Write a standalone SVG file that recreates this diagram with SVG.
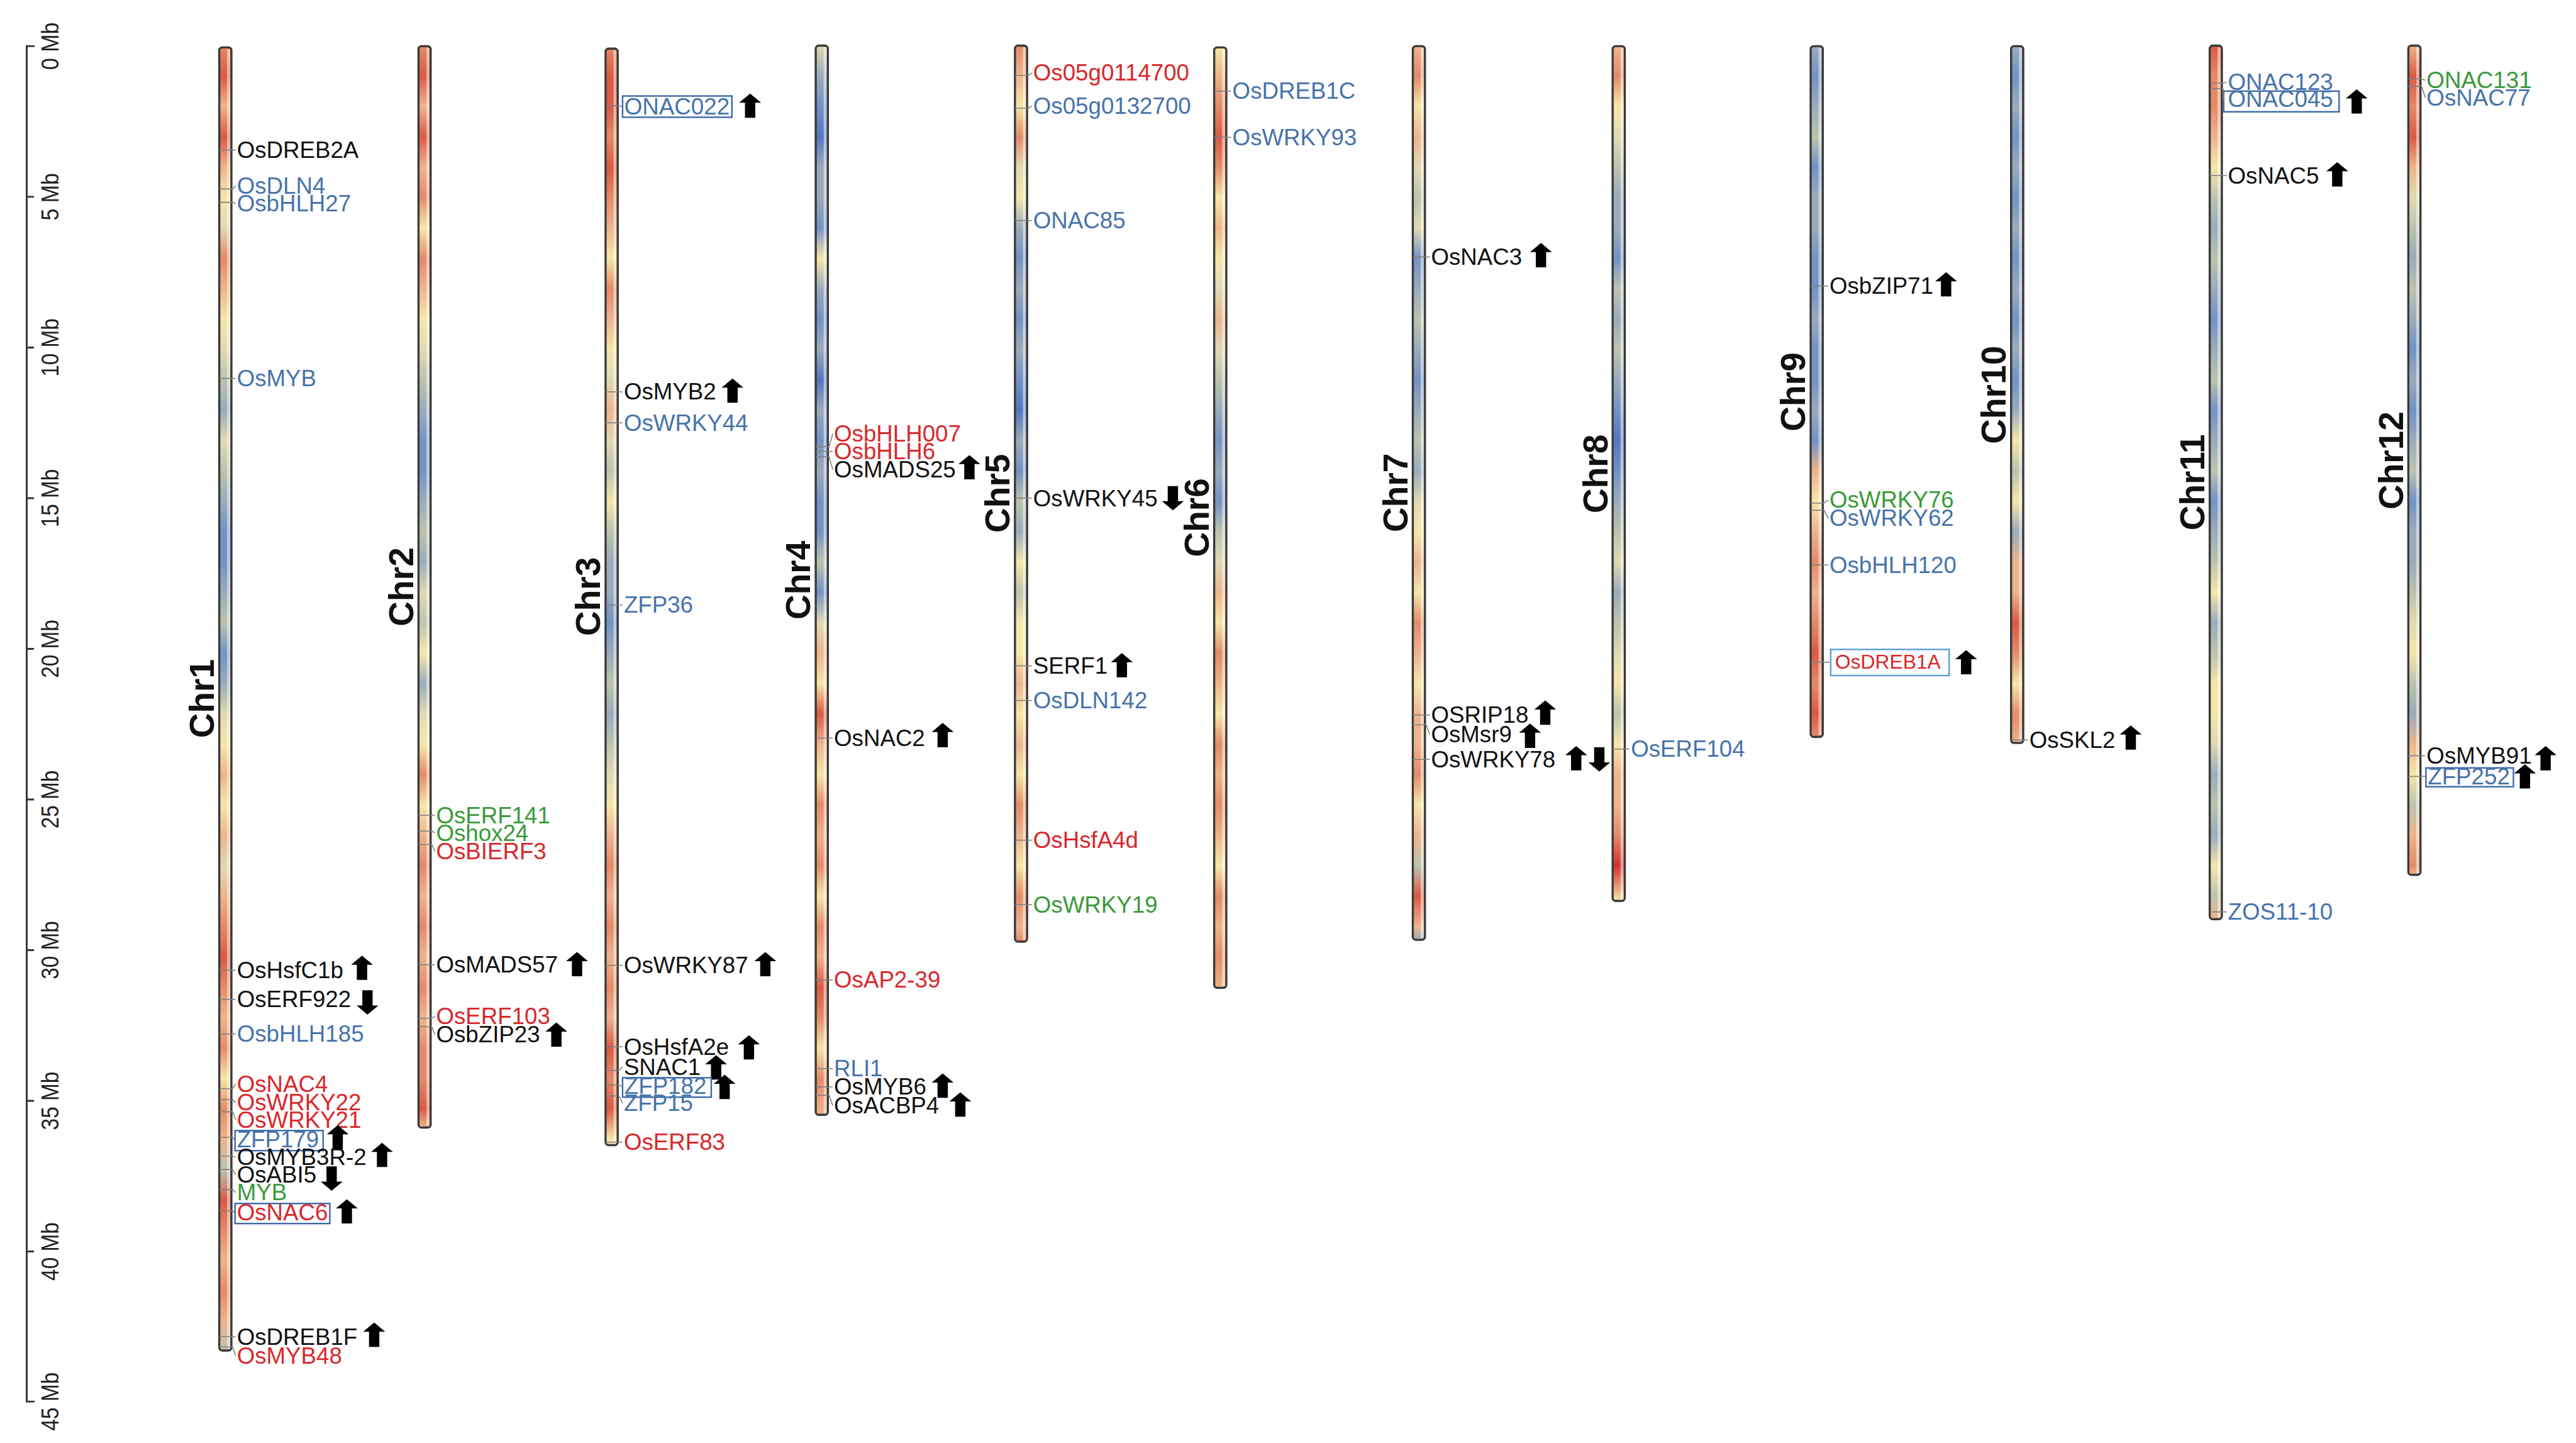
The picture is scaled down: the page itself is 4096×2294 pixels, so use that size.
<svg xmlns="http://www.w3.org/2000/svg" width="4096" height="2294" viewBox="0 0 4096 2294">
<style>
.t{font-family:"Liberation Sans",Arial,sans-serif;font-size:38px}
.k{fill:#111}.bl{fill:#4773ab}.rd{fill:#d8282c}.gr{fill:#3a9a3a}
.chr{font-family:"Liberation Sans",Arial,sans-serif;font-size:57px;font-weight:bold;fill:#111;text-anchor:middle}
.axt{font-family:"Liberation Sans",Arial,sans-serif;font-size:40px;fill:#222;text-anchor:middle}
.ax{fill:none;stroke:#333;stroke-width:3}
.cn{fill:none;stroke:#808080;stroke-width:1.6}
.bx{fill:none;stroke:#3e6aa8;stroke-width:2.5}
.bx2{fill:none;stroke:#5aa0d8;stroke-width:2.5}
.bar{fill:none;stroke:#3a3a3a;stroke-width:3.5}
.hl{fill:#fff;opacity:.5}
.cR{stop-color:#da5a44}.cr{stop-color:#e48a68}.co{stop-color:#eeb48b}.cy{stop-color:#f6e6a9}.cb{stop-color:#e0d9b2}.cg{stop-color:#bcc3ae}.cs{stop-color:#9aabbb}.cB{stop-color:#7392c6}.cD{stop-color:#5476bf}
</style>
<defs>
<path id="up" d="M0,-20L18,-5H8.5V20H-8.5V-5H-18Z" fill="#000"/>
<path id="dn" d="M0,20L18,5H8.5V-20H-8.5V5H-18Z" fill="#000"/>
<linearGradient id="g1" gradientUnits="userSpaceOnUse" x1="0" y1="0" x2="0" y2="2500">
<stop offset=".03" class="cr"/><stop offset=".05" class="cR"/><stop offset=".07" class="co"/><stop offset=".09" class="cR"/><stop offset=".11" class="co"/><stop offset=".13" class="cy"/><stop offset=".15" class="cb"/><stop offset=".17" class="cr"/><stop offset=".19" class="co"/><stop offset=".21" class="cy"/><stop offset=".23" class="cb"/><stop offset=".25" class="cg"/><stop offset=".27" class="cs"/><stop offset=".29" class="cb"/><stop offset=".31" class="cg"/><stop offset=".33" class="cs"/><stop offset=".35" class="cB"/><stop offset=".37" class="cB"/><stop offset=".39" class="cs"/><stop offset=".41" class="cg"/><stop offset=".43" class="cB"/><stop offset=".45" class="cs"/><stop offset=".47" class="cb"/><stop offset=".49" class="cy"/><stop offset=".51" class="co"/><stop offset=".53" class="cy"/><stop offset=".55" class="co"/><stop offset=".57" class="cb"/><stop offset=".59" class="co"/><stop offset=".61" class="cr"/><stop offset=".63" class="cR"/><stop offset=".65" class="cr"/><stop offset=".67" class="co"/><stop offset=".69" class="cr"/><stop offset=".71" class="cy"/><stop offset=".73" class="cr"/><stop offset=".75" class="co"/><stop offset=".77" class="cg"/><stop offset=".79" class="cR"/><stop offset=".81" class="cr"/><stop offset=".83" class="co"/><stop offset=".85" class="cr"/><stop offset=".87" class="co"/><stop offset=".89" class="cg"/>
</linearGradient>
<linearGradient id="g2" gradientUnits="userSpaceOnUse" x1="0" y1="0" x2="0" y2="2500">
<stop offset=".03" class="cr"/><stop offset=".05" class="cR"/><stop offset=".07" class="co"/><stop offset=".09" class="cR"/><stop offset=".11" class="co"/><stop offset=".13" class="cr"/><stop offset=".15" class="cy"/><stop offset=".17" class="cr"/><stop offset=".19" class="co"/><stop offset=".21" class="cy"/><stop offset=".23" class="cb"/><stop offset=".25" class="cg"/><stop offset=".27" class="cs"/><stop offset=".29" class="cB"/><stop offset=".31" class="cB"/><stop offset=".33" class="cs"/><stop offset=".35" class="cg"/><stop offset=".37" class="cs"/><stop offset=".39" class="cb"/><stop offset=".41" class="cg"/><stop offset=".43" class="cy"/><stop offset=".45" class="cs"/><stop offset=".47" class="cb"/><stop offset=".49" class="cy"/><stop offset=".51" class="cr"/><stop offset=".53" class="cy"/><stop offset=".55" class="co"/><stop offset=".57" class="cr"/><stop offset=".59" class="co"/><stop offset=".61" class="cr"/><stop offset=".63" class="co"/><stop offset=".65" class="cr"/><stop offset=".67" class="co"/><stop offset=".69" class="cr"/><stop offset=".71" class="cr"/><stop offset=".73" class="cR"/><stop offset=".742" class="co"/>
</linearGradient>
<linearGradient id="g3" gradientUnits="userSpaceOnUse" x1="0" y1="0" x2="0" y2="2500">
<stop offset=".03" class="cr"/><stop offset=".05" class="cR"/><stop offset=".07" class="cR"/><stop offset=".09" class="cr"/><stop offset=".11" class="cR"/><stop offset=".13" class="cr"/><stop offset=".15" class="co"/><stop offset=".17" class="cy"/><stop offset=".19" class="cr"/><stop offset=".21" class="co"/><stop offset=".23" class="cy"/><stop offset=".25" class="cb"/><stop offset=".27" class="co"/><stop offset=".29" class="cb"/><stop offset=".31" class="cg"/><stop offset=".33" class="cy"/><stop offset=".35" class="cg"/><stop offset=".37" class="cs"/><stop offset=".39" class="cs"/><stop offset=".41" class="cB"/><stop offset=".43" class="cs"/><stop offset=".45" class="cg"/><stop offset=".47" class="cs"/><stop offset=".49" class="cg"/><stop offset=".51" class="cb"/><stop offset=".53" class="cy"/><stop offset=".55" class="co"/><stop offset=".57" class="cr"/><stop offset=".59" class="co"/><stop offset=".61" class="cr"/><stop offset=".63" class="co"/><stop offset=".65" class="cr"/><stop offset=".67" class="co"/><stop offset=".69" class="cR"/><stop offset=".71" class="cr"/><stop offset=".73" class="cR"/><stop offset=".75" class="cy"/>
</linearGradient>
<linearGradient id="g4" gradientUnits="userSpaceOnUse" x1="0" y1="0" x2="0" y2="2500">
<stop offset=".03" class="cb"/><stop offset=".05" class="cs"/><stop offset=".07" class="cB"/><stop offset=".09" class="cD"/><stop offset=".11" class="cs"/><stop offset=".13" class="cs"/><stop offset=".15" class="cB"/><stop offset=".17" class="cy"/><stop offset=".19" class="cs"/><stop offset=".21" class="cB"/><stop offset=".23" class="cs"/><stop offset=".25" class="cD"/><stop offset=".27" class="cs"/><stop offset=".29" class="cB"/><stop offset=".31" class="cs"/><stop offset=".33" class="cB"/><stop offset=".35" class="cB"/><stop offset=".37" class="cg"/><stop offset=".39" class="cB"/><stop offset=".41" class="cb"/><stop offset=".43" class="co"/><stop offset=".45" class="cy"/><stop offset=".47" class="cR"/><stop offset=".49" class="co"/><stop offset=".51" class="cy"/><stop offset=".53" class="cr"/><stop offset=".55" class="co"/><stop offset=".57" class="cr"/><stop offset=".59" class="cy"/><stop offset=".61" class="cr"/><stop offset=".63" class="co"/><stop offset=".65" class="cR"/><stop offset=".67" class="cr"/><stop offset=".69" class="cy"/><stop offset=".71" class="cr"/><stop offset=".734" class="co"/>
</linearGradient>
<linearGradient id="g5" gradientUnits="userSpaceOnUse" x1="0" y1="0" x2="0" y2="2500">
<stop offset=".03" class="cr"/><stop offset=".05" class="co"/><stop offset=".07" class="cy"/><stop offset=".09" class="cr"/><stop offset=".11" class="cb"/><stop offset=".13" class="cy"/><stop offset=".15" class="cs"/><stop offset=".17" class="cB"/><stop offset=".19" class="cs"/><stop offset=".21" class="cB"/><stop offset=".23" class="cs"/><stop offset=".25" class="cB"/><stop offset=".27" class="cD"/><stop offset=".29" class="cs"/><stop offset=".31" class="cB"/><stop offset=".33" class="cg"/><stop offset=".35" class="cs"/><stop offset=".37" class="cy"/><stop offset=".39" class="cg"/><stop offset=".41" class="cy"/><stop offset=".43" class="cy"/><stop offset=".45" class="co"/><stop offset=".47" class="cy"/><stop offset=".49" class="co"/><stop offset=".51" class="cy"/><stop offset=".53" class="cr"/><stop offset=".55" class="co"/><stop offset=".57" class="cy"/><stop offset=".59" class="cr"/><stop offset=".61" class="co"/><stop offset=".62" class="cr"/>
</linearGradient>
<linearGradient id="g6" gradientUnits="userSpaceOnUse" x1="0" y1="0" x2="0" y2="2500">
<stop offset=".03" class="cy"/><stop offset=".05" class="co"/><stop offset=".07" class="cr"/><stop offset=".09" class="cR"/><stop offset=".11" class="cr"/><stop offset=".13" class="cy"/><stop offset=".15" class="co"/><stop offset=".17" class="cy"/><stop offset=".19" class="cb"/><stop offset=".21" class="co"/><stop offset=".23" class="cb"/><stop offset=".25" class="cg"/><stop offset=".27" class="cs"/><stop offset=".29" class="cB"/><stop offset=".31" class="cs"/><stop offset=".33" class="cB"/><stop offset=".35" class="cg"/><stop offset=".37" class="cb"/><stop offset=".39" class="co"/><stop offset=".41" class="cy"/><stop offset=".43" class="cr"/><stop offset=".45" class="co"/><stop offset=".47" class="cy"/><stop offset=".49" class="cr"/><stop offset=".51" class="co"/><stop offset=".53" class="cr"/><stop offset=".55" class="co"/><stop offset=".57" class="cy"/><stop offset=".59" class="cr"/><stop offset=".61" class="co"/><stop offset=".63" class="cr"/><stop offset=".6504" class="co"/>
</linearGradient>
<linearGradient id="g7" gradientUnits="userSpaceOnUse" x1="0" y1="0" x2="0" y2="2500">
<stop offset=".03" class="co"/><stop offset=".05" class="cr"/><stop offset=".07" class="cy"/><stop offset=".09" class="co"/><stop offset=".11" class="cb"/><stop offset=".13" class="cg"/><stop offset=".15" class="cb"/><stop offset=".17" class="cB"/><stop offset=".19" class="cs"/><stop offset=".21" class="cg"/><stop offset=".23" class="cs"/><stop offset=".25" class="cB"/><stop offset=".27" class="cs"/><stop offset=".29" class="cg"/><stop offset=".31" class="cs"/><stop offset=".33" class="cb"/><stop offset=".35" class="cy"/><stop offset=".37" class="co"/><stop offset=".39" class="cy"/><stop offset=".41" class="cr"/><stop offset=".43" class="co"/><stop offset=".45" class="cy"/><stop offset=".47" class="co"/><stop offset=".49" class="co"/><stop offset=".51" class="cr"/><stop offset=".53" class="cy"/><stop offset=".55" class="co"/><stop offset=".57" class="cg"/><stop offset=".59" class="cR"/><stop offset=".61" class="co"/><stop offset=".6188" class="cs"/>
</linearGradient>
<linearGradient id="g8" gradientUnits="userSpaceOnUse" x1="0" y1="0" x2="0" y2="2500">
<stop offset=".03" class="co"/><stop offset=".05" class="cr"/><stop offset=".07" class="cy"/><stop offset=".09" class="cb"/><stop offset=".11" class="cg"/><stop offset=".13" class="cs"/><stop offset=".15" class="cs"/><stop offset=".17" class="cB"/><stop offset=".19" class="cg"/><stop offset=".21" class="cs"/><stop offset=".23" class="cg"/><stop offset=".25" class="cs"/><stop offset=".27" class="cB"/><stop offset=".29" class="cD"/><stop offset=".31" class="cB"/><stop offset=".33" class="cs"/><stop offset=".35" class="cg"/><stop offset=".37" class="cb"/><stop offset=".39" class="cs"/><stop offset=".41" class="cg"/><stop offset=".43" class="cb"/><stop offset=".45" class="cy"/><stop offset=".47" class="cg"/><stop offset=".49" class="cy"/><stop offset=".51" class="co"/><stop offset=".53" class="co"/><stop offset=".55" class="cr"/><stop offset=".57" stop-color="#d3302c"/><stop offset=".5932" class="cy"/>
</linearGradient>
<linearGradient id="g9" gradientUnits="userSpaceOnUse" x1="0" y1="0" x2="0" y2="2500">
<stop offset=".03" class="cs"/><stop offset=".05" class="cB"/><stop offset=".07" class="cs"/><stop offset=".09" class="cg"/><stop offset=".11" class="cB"/><stop offset=".13" class="cs"/><stop offset=".15" class="cs"/><stop offset=".17" class="cB"/><stop offset=".19" class="cB"/><stop offset=".21" class="cs"/><stop offset=".23" class="cB"/><stop offset=".25" class="cB"/><stop offset=".27" class="cs"/><stop offset=".29" class="cB"/><stop offset=".31" class="co"/><stop offset=".33" class="cy"/><stop offset=".35" class="co"/><stop offset=".37" class="cr"/><stop offset=".39" class="co"/><stop offset=".41" class="cr"/><stop offset=".43" class="cR"/><stop offset=".45" class="cr"/><stop offset=".47" class="cR"/><stop offset=".4852" class="cr"/>
</linearGradient>
<linearGradient id="g10" gradientUnits="userSpaceOnUse" x1="0" y1="0" x2="0" y2="2500">
<stop offset=".03" class="cs"/><stop offset=".05" class="cB"/><stop offset=".07" class="cs"/><stop offset=".09" class="cB"/><stop offset=".11" class="cs"/><stop offset=".13" class="cB"/><stop offset=".15" class="cs"/><stop offset=".17" class="cB"/><stop offset=".19" class="cs"/><stop offset=".21" class="cB"/><stop offset=".23" class="cs"/><stop offset=".25" class="cB"/><stop offset=".27" class="cs"/><stop offset=".29" class="cy"/><stop offset=".31" class="cg"/><stop offset=".33" class="cy"/><stop offset=".35" class="cs"/><stop offset=".37" class="co"/><stop offset=".39" class="co"/><stop offset=".41" class="cR"/><stop offset=".43" class="cr"/><stop offset=".45" class="cy"/><stop offset=".47" class="cr"/><stop offset=".4892" class="co"/>
</linearGradient>
<linearGradient id="g11" gradientUnits="userSpaceOnUse" x1="0" y1="0" x2="0" y2="2500">
<stop offset=".03" class="cR"/><stop offset=".05" class="cr"/><stop offset=".07" class="cr"/><stop offset=".09" class="co"/><stop offset=".11" class="cy"/><stop offset=".13" class="cg"/><stop offset=".15" class="cs"/><stop offset=".17" class="cg"/><stop offset=".19" class="cs"/><stop offset=".21" class="cB"/><stop offset=".23" class="cs"/><stop offset=".25" class="cg"/><stop offset=".27" class="cB"/><stop offset=".29" class="cs"/><stop offset=".31" class="cg"/><stop offset=".33" class="cB"/><stop offset=".35" class="cs"/><stop offset=".37" class="cg"/><stop offset=".39" class="cy"/><stop offset=".41" class="cs"/><stop offset=".43" class="cg"/><stop offset=".45" class="cy"/><stop offset=".47" class="cy"/><stop offset=".49" class="cb"/><stop offset=".51" class="cs"/><stop offset=".53" class="cg"/><stop offset=".55" class="cs"/><stop offset=".57" class="cy"/><stop offset=".59" class="cg"/><stop offset=".6052" class="co"/>
</linearGradient>
<linearGradient id="g12" gradientUnits="userSpaceOnUse" x1="0" y1="0" x2="0" y2="2500">
<stop offset=".03" class="co"/><stop offset=".05" class="cR"/><stop offset=".07" class="cr"/><stop offset=".09" class="cR"/><stop offset=".11" class="co"/><stop offset=".13" class="cb"/><stop offset=".15" class="cg"/><stop offset=".17" class="cs"/><stop offset=".19" class="cg"/><stop offset=".21" class="cs"/><stop offset=".23" class="cB"/><stop offset=".25" class="cs"/><stop offset=".27" class="cB"/><stop offset=".29" class="cs"/><stop offset=".31" class="cg"/><stop offset=".33" class="cB"/><stop offset=".35" class="cs"/><stop offset=".37" class="cs"/><stop offset=".39" class="cg"/><stop offset=".41" class="cb"/><stop offset=".43" class="cy"/><stop offset=".45" class="cg"/><stop offset=".47" class="cs"/><stop offset=".49" class="co"/><stop offset=".51" class="cy"/><stop offset=".53" class="cg"/><stop offset=".55" class="co"/><stop offset=".57" class="cr"/><stop offset=".576" class="co"/>
</linearGradient>
</defs>
<rect width="4096" height="2294" fill="#fff"/>
<g transform="scale(0.9658)">
<g id="axis">
<path class="ax" d="M57,76H44V2307H57M44,324H56M44,572H56M44,820H56M44,1068H56M44,1316H56M44,1564H56M44,1812H56M44,2060H56"/>
<text class="axt" transform="translate(96,76) rotate(-90)" textLength="78" lengthAdjust="spacingAndGlyphs">0 Mb</text>
<text class="axt" transform="translate(96,324) rotate(-90)" textLength="78" lengthAdjust="spacingAndGlyphs">5 Mb</text>
<text class="axt" transform="translate(96,572) rotate(-90)" textLength="96" lengthAdjust="spacingAndGlyphs">10 Mb</text>
<text class="axt" transform="translate(96,820) rotate(-90)" textLength="96" lengthAdjust="spacingAndGlyphs">15 Mb</text>
<text class="axt" transform="translate(96,1068) rotate(-90)" textLength="96" lengthAdjust="spacingAndGlyphs">20 Mb</text>
<text class="axt" transform="translate(96,1316) rotate(-90)" textLength="96" lengthAdjust="spacingAndGlyphs">25 Mb</text>
<text class="axt" transform="translate(96,1564) rotate(-90)" textLength="96" lengthAdjust="spacingAndGlyphs">30 Mb</text>
<text class="axt" transform="translate(96,1812) rotate(-90)" textLength="96" lengthAdjust="spacingAndGlyphs">35 Mb</text>
<text class="axt" transform="translate(96,2060) rotate(-90)" textLength="96" lengthAdjust="spacingAndGlyphs">40 Mb</text>
<text class="axt" transform="translate(96,2307) rotate(-90)" textLength="96" lengthAdjust="spacingAndGlyphs">45 Mb</text>
</g>

<g id="chr1">
<rect x="361" y="78" width="20" height="2145" rx="5" fill="url(#g1)"/><rect x="374" y="81" width="5" height="2139" class="hl"/><rect x="361" y="78" width="20" height="2145" rx="5" class="bar"/>
<text class="chr" transform="translate(352,1150) rotate(-90)">Chr1</text>
<g id="OsDREB2A"><text class="t k" x="390" y="260">OsDREB2A</text></g>
<g id="OsDLN4"><text class="t bl" x="390" y="319">OsDLN4</text></g>
<g id="OsbHLH27"><text class="t bl" x="390" y="348">OsbHLH27</text></g>
<g id="OsMYB"><text class="t bl" x="390" y="636">OsMYB</text></g>
<g id="OsHsfC1b"><text class="t k" x="390" y="1610">OsHsfC1b</text><use href="#up" x="596" y="1593"/></g>
<g id="OsERF922"><text class="t k" x="390" y="1658">OsERF922</text><use href="#dn" x="605" y="1650"/></g>
<g id="OsbHLH185"><text class="t bl" x="390" y="1715">OsbHLH185</text></g>
<g id="OsNAC4"><text class="t rd" x="390" y="1797">OsNAC4</text></g>
<g id="OsWRKY22"><text class="t rd" x="390" y="1828">OsWRKY22</text></g>
<g id="OsWRKY21"><text class="t rd" x="390" y="1856">OsWRKY21</text></g>
<g id="ZFP179"><rect class="bx" x="387" y="1861" width="145" height="33"/><text class="t bl" x="390" y="1889">ZFP179</text><use href="#up" x="556" y="1872"/></g>
<g id="OsMYB3R-2"><text class="t k" x="390" y="1918">OsMYB3R-2</text><use href="#up" x="629" y="1901"/></g>
<g id="OsABI5"><text class="t k" x="390" y="1947">OsABI5</text><use href="#dn" x="546" y="1940"/></g>
<g id="MYB"><text class="t gr" x="390" y="1976">MYB</text></g>
<g id="OsNAC6"><rect class="bx" x="387" y="1981" width="156" height="33"/><text class="t rd" x="390" y="2009">OsNAC6</text><use href="#up" x="571" y="1994"/></g>
<g id="OsDREB1F"><text class="t k" x="390" y="2214">OsDREB1F</text><use href="#up" x="616" y="2197"/></g>
<g id="OsMYB48"><text class="t rd" x="390" y="2245">OsMYB48</text></g>
</g>

<g id="chr2">
<rect x="689" y="76" width="20" height="1780" rx="5" fill="url(#g2)"/><rect x="702" y="79" width="5" height="1774" class="hl"/><rect x="689" y="76" width="20" height="1780" rx="5" class="bar"/>
<text class="chr" transform="translate(680,966) rotate(-90)">Chr2</text>
<g id="OsERF141"><text class="t gr" x="718" y="1355">OsERF141</text></g>
<g id="Oshox24"><text class="t gr" x="718" y="1384">Oshox24</text></g>
<g id="OsBIERF3"><text class="t rd" x="718" y="1414">OsBIERF3</text></g>
<g id="OsMADS57"><text class="t k" x="718" y="1601">OsMADS57</text><use href="#up" x="950" y="1587"/></g>
<g id="OsERF103"><text class="t rd" x="718" y="1686">OsERF103</text></g>
<g id="OsbZIP23"><text class="t k" x="718" y="1716">OsbZIP23</text><use href="#up" x="916" y="1703"/></g>
</g>

<g id="chr3">
<rect x="997" y="80" width="20" height="1805" rx="5" fill="url(#g3)"/><rect x="1010" y="83" width="5" height="1799" class="hl"/><rect x="997" y="80" width="20" height="1805" rx="5" class="bar"/>
<text class="chr" transform="translate(988,982) rotate(-90)">Chr3</text>
<g id="ONAC022"><rect class="bx" x="1025" y="158" width="180" height="35"/><text class="t bl" x="1028" y="188">ONAC022</text><use href="#up" x="1235" y="174"/></g>
<g id="OsMYB2"><text class="t k" x="1027" y="658">OsMYB2</text><use href="#up" x="1206" y="643"/></g>
<g id="OsWRKY44"><text class="t bl" x="1027" y="709">OsWRKY44</text></g>
<g id="ZFP36"><text class="t bl" x="1027" y="1009">ZFP36</text></g>
<g id="OsWRKY87"><text class="t k" x="1027" y="1602">OsWRKY87</text><use href="#up" x="1260" y="1587"/></g>
<g id="OsHsfA2e"><text class="t k" x="1027" y="1736">OsHsfA2e</text><use href="#up" x="1233" y="1724"/></g>
<g id="SNAC1"><text class="t k" x="1027" y="1769">SNAC1</text><use href="#up" x="1179" y="1757"/></g>
<g id="ZFP182"><rect class="bx" x="1025" y="1774" width="146" height="32"/><text class="t bl" x="1028" y="1801">ZFP182</text><use href="#up" x="1193" y="1789"/></g>
<g id="ZFP15"><text class="t bl" x="1027" y="1829">ZFP15</text></g>
<g id="OsERF83"><text class="t rd" x="1027" y="1893">OsERF83</text></g>
</g>

<g id="chr4">
<rect x="1343" y="75" width="20" height="1760" rx="5" fill="url(#g4)"/><rect x="1356" y="78" width="5" height="1754" class="hl"/><rect x="1343" y="75" width="20" height="1760" rx="5" class="bar"/>
<text class="chr" transform="translate(1334,955) rotate(-90)">Chr4</text>
<g id="OsbHLH007"><text class="t rd" x="1373" y="727">OsbHLH007</text></g>
<g id="OsbHLH6"><text class="t rd" x="1373" y="756">OsbHLH6</text></g>
<g id="OsMADS25"><text class="t k" x="1373" y="786">OsMADS25</text><use href="#up" x="1596" y="769"/></g>
<g id="OsNAC2"><text class="t k" x="1373" y="1228">OsNAC2</text><use href="#up" x="1552" y="1210"/></g>
<g id="OsAP2-39"><text class="t rd" x="1373" y="1626">OsAP2-39</text></g>
<g id="RLI1"><text class="t bl" x="1373" y="1772">RLI1</text></g>
<g id="OsMYB6"><text class="t k" x="1373" y="1802">OsMYB6</text><use href="#up" x="1552" y="1787"/></g>
<g id="OsACBP4"><text class="t k" x="1373" y="1833">OsACBP4</text><use href="#up" x="1581" y="1818"/></g>
</g>

<g id="chr5">
<rect x="1671" y="75" width="20" height="1475" rx="5" fill="url(#g5)"/><rect x="1684" y="78" width="5" height="1469" class="hl"/><rect x="1671" y="75" width="20" height="1475" rx="5" class="bar"/>
<text class="chr" transform="translate(1662,812) rotate(-90)">Chr5</text>
<g id="Os05g0114700"><text class="t rd" x="1701" y="133">Os05g0114700</text></g>
<g id="Os05g0132700"><text class="t bl" x="1701" y="187">Os05g0132700</text></g>
<g id="ONAC85"><text class="t bl" x="1701" y="376">ONAC85</text></g>
<g id="OsWRKY45"><text class="t k" x="1701" y="833">OsWRKY45</text><use href="#dn" x="1931" y="820"/></g>
<g id="SERF1"><text class="t k" x="1701" y="1109">SERF1</text><use href="#up" x="1847" y="1095"/></g>
<g id="OsDLN142"><text class="t bl" x="1701" y="1166">OsDLN142</text></g>
<g id="OsHsfA4d"><text class="t rd" x="1701" y="1396">OsHsfA4d</text></g>
<g id="OsWRKY19"><text class="t gr" x="1701" y="1502">OsWRKY19</text></g>
</g>

<g id="chr6">
<rect x="1999" y="78" width="20" height="1548" rx="5" fill="url(#g6)"/><rect x="2012" y="81" width="5" height="1542" class="hl"/><rect x="1999" y="78" width="20" height="1548" rx="5" class="bar"/>
<text class="chr" transform="translate(1990,852) rotate(-90)">Chr6</text>
<g id="OsDREB1C"><text class="t bl" x="2029" y="163">OsDREB1C</text></g>
<g id="OsWRKY93"><text class="t bl" x="2029" y="239">OsWRKY93</text></g>
</g>

<g id="chr7">
<rect x="2326" y="76" width="20" height="1471" rx="5" fill="url(#g7)"/><rect x="2339" y="79" width="5" height="1465" class="hl"/><rect x="2326" y="76" width="20" height="1471" rx="5" class="bar"/>
<text class="chr" transform="translate(2317,811) rotate(-90)">Chr7</text>
<g id="OsNAC3"><text class="t k" x="2356" y="436">OsNAC3</text><use href="#up" x="2537" y="420"/></g>
<g id="OSRIP18"><text class="t k" x="2356" y="1190">OSRIP18</text><use href="#up" x="2544" y="1173"/></g>
<g id="OsMsr9"><text class="t k" x="2356" y="1222">OsMsr9</text><use href="#up" x="2519" y="1211"/></g>
<g id="OsWRKY78"><text class="t k" x="2356" y="1263">OsWRKY78</text><use href="#up" x="2595" y="1248"/><use href="#dn" x="2633" y="1250"/></g>
</g>

<g id="chr8">
<rect x="2655" y="76" width="20" height="1407" rx="5" fill="url(#g8)"/><rect x="2668" y="79" width="5" height="1401" class="hl"/><rect x="2655" y="76" width="20" height="1407" rx="5" class="bar"/>
<text class="chr" transform="translate(2646,780) rotate(-90)">Chr8</text>
<g id="OsERF104"><text class="t bl" x="2685" y="1246">OsERF104</text></g>
</g>

<g id="chr9">
<rect x="2981" y="76" width="20" height="1137" rx="5" fill="url(#g9)"/><rect x="2994" y="79" width="5" height="1131" class="hl"/><rect x="2981" y="76" width="20" height="1137" rx="5" class="bar"/>
<text class="chr" transform="translate(2972,645) rotate(-90)">Chr9</text>
<g id="OsbZIP71"><text class="t k" x="3012" y="484">OsbZIP71</text><use href="#up" x="3204" y="468"/></g>
<g id="OsWRKY76"><text class="t gr" x="3012" y="836">OsWRKY76</text></g>
<g id="OsWRKY62"><text class="t bl" x="3012" y="866">OsWRKY62</text></g>
<g id="OsbHLH120"><text class="t bl" x="3012" y="943">OsbHLH120</text></g>
<g id="OsDREB1A"><rect class="bx2" x="3014" y="1069" width="195" height="43"/><text class="t rd" x="3021" y="1101" style="font-size:33px">OsDREB1A</text><use href="#up" x="3237" y="1090"/></g>
</g>

<g id="chr10">
<rect x="3311" y="76" width="20" height="1147" rx="5" fill="url(#g10)"/><rect x="3324" y="79" width="5" height="1141" class="hl"/><rect x="3311" y="76" width="20" height="1147" rx="5" class="bar"/>
<text class="chr" transform="translate(3302,650) rotate(-90)">Chr10</text>
<g id="OsSKL2"><text class="t k" x="3341" y="1231">OsSKL2</text><use href="#up" x="3508" y="1214"/></g>
</g>

<g id="chr11">
<rect x="3638" y="75" width="20" height="1438" rx="5" fill="url(#g11)"/><rect x="3651" y="78" width="5" height="1432" class="hl"/><rect x="3638" y="75" width="20" height="1438" rx="5" class="bar"/>
<text class="chr" transform="translate(3629,794) rotate(-90)">Chr11</text>
<g id="ONAC123"><text class="t bl" x="3668" y="148">ONAC123</text></g>
<g id="ONAC045"><rect class="bx" x="3661" y="150" width="190" height="34"/><text class="t bl" x="3668" y="176">ONAC045</text><use href="#up" x="3880" y="167"/></g>
<g id="OsNAC5"><text class="t k" x="3668" y="302">OsNAC5</text><use href="#up" x="3848" y="287"/></g>
<g id="ZOS11-10"><text class="t bl" x="3668" y="1514">ZOS11-10</text></g>
</g>

<g id="chr12">
<rect x="3965" y="75" width="20" height="1365" rx="5" fill="url(#g12)"/><rect x="3978" y="78" width="5" height="1359" class="hl"/><rect x="3965" y="75" width="20" height="1365" rx="5" class="bar"/>
<text class="chr" transform="translate(3956,758) rotate(-90)">Chr12</text>
<g id="ONAC131"><text class="t gr" x="3995" y="145">ONAC131</text></g>
<g id="OsNAC77"><text class="t bl" x="3995" y="174">OsNAC77</text></g>
<g id="OsMYB91"><text class="t k" x="3995" y="1257">OsMYB91</text><use href="#up" x="4191" y="1248"/></g>
<g id="ZFP252"><rect class="bx" x="3994" y="1264" width="144" height="31"/><text class="t bl" x="3997" y="1291">ZFP252</text><use href="#up" x="4157" y="1278"/></g>
</g>

<g id="connectors" class="cn">
<polyline points="361,247 383,247 388,247"/>
<polyline points="361,311 383,311 388,306"/>
<polyline points="361,333 383,333 388,335"/>
<polyline points="361,623 383,623 388,623"/>
<polyline points="361,1597 383,1597 388,1597"/>
<polyline points="361,1645 383,1645 388,1645"/>
<polyline points="361,1702 383,1702 388,1702"/>
<polyline points="361,1792 383,1792 388,1784"/>
<polyline points="361,1810 383,1810 388,1815"/>
<polyline points="361,1830 383,1830 388,1843"/>
<polyline points="361,1872 383,1872 386,1876"/>
<polyline points="361,1903 383,1903 388,1905"/>
<polyline points="361,1925 383,1925 388,1934"/>
<polyline points="361,1958 383,1958 388,1963"/>
<polyline points="361,1993 383,1993 386,1996"/>
<polyline points="361,2200 383,2200 388,2201"/>
<polyline points="361,2217 383,2217 388,2232"/>
<polyline points="689,1342 711,1342 716,1342"/>
<polyline points="689,1368 711,1368 716,1371"/>
<polyline points="689,1390 711,1390 716,1401"/>
<polyline points="689,1588 711,1588 716,1588"/>
<polyline points="689,1676 711,1676 716,1673"/>
<polyline points="689,1690 711,1690 716,1703"/>
<polyline points="997,174 1019,174 1024,175"/>
<polyline points="997,645 1019,645 1025,645"/>
<polyline points="997,696 1019,696 1025,696"/>
<polyline points="997,996 1019,996 1025,996"/>
<polyline points="997,1589 1019,1589 1025,1589"/>
<polyline points="997,1723 1019,1723 1025,1723"/>
<polyline points="997,1762 1019,1762 1025,1756"/>
<polyline points="997,1786 1019,1786 1024,1788"/>
<polyline points="997,1804 1019,1804 1025,1816"/>
<polyline points="997,1880 1019,1880 1025,1880"/>
<polyline points="1343,735 1365,735 1371,714"/>
<polyline points="1343,743 1365,743 1371,743"/>
<polyline points="1343,752 1365,752 1371,773"/>
<polyline points="1343,1215 1365,1215 1371,1215"/>
<polyline points="1343,1613 1365,1613 1371,1613"/>
<polyline points="1343,1759 1365,1759 1371,1759"/>
<polyline points="1343,1789 1365,1789 1371,1789"/>
<polyline points="1343,1803 1365,1803 1371,1820"/>
<polyline points="1671,124 1693,124 1699,120"/>
<polyline points="1671,178 1693,178 1699,174"/>
<polyline points="1671,363 1693,363 1699,363"/>
<polyline points="1671,820 1693,820 1699,820"/>
<polyline points="1671,1096 1693,1096 1699,1096"/>
<polyline points="1671,1153 1693,1153 1699,1153"/>
<polyline points="1671,1383 1693,1383 1699,1383"/>
<polyline points="1671,1489 1693,1489 1699,1489"/>
<polyline points="1999,150 2021,150 2027,150"/>
<polyline points="1999,226 2021,226 2027,226"/>
<polyline points="2326,423 2348,423 2354,423"/>
<polyline points="2326,1177 2348,1177 2354,1177"/>
<polyline points="2326,1193 2348,1193 2354,1209"/>
<polyline points="2326,1250 2348,1250 2354,1250"/>
<polyline points="2655,1233 2677,1233 2683,1233"/>
<polyline points="2981,471 3003,471 3010,471"/>
<polyline points="2981,828 3003,828 3010,823"/>
<polyline points="2981,840 3003,840 3010,853"/>
<polyline points="2981,930 3003,930 3010,930"/>
<polyline points="2981,1090 3003,1090 3012,1090"/>
<polyline points="3311,1218 3333,1218 3339,1218"/>
<polyline points="3638,137 3660,137 3666,135"/>
<polyline points="3638,146 3660,146 3661,163"/>
<polyline points="3638,289 3660,289 3666,289"/>
<polyline points="3638,1501 3660,1501 3666,1501"/>
<polyline points="3965,130 3987,130 3993,132"/>
<polyline points="3965,142 3987,142 3993,161"/>
<polyline points="3965,1244 3987,1244 3993,1244"/>
<polyline points="3965,1278 3987,1278 3993,1278"/>
</g>
</g>
</svg>
